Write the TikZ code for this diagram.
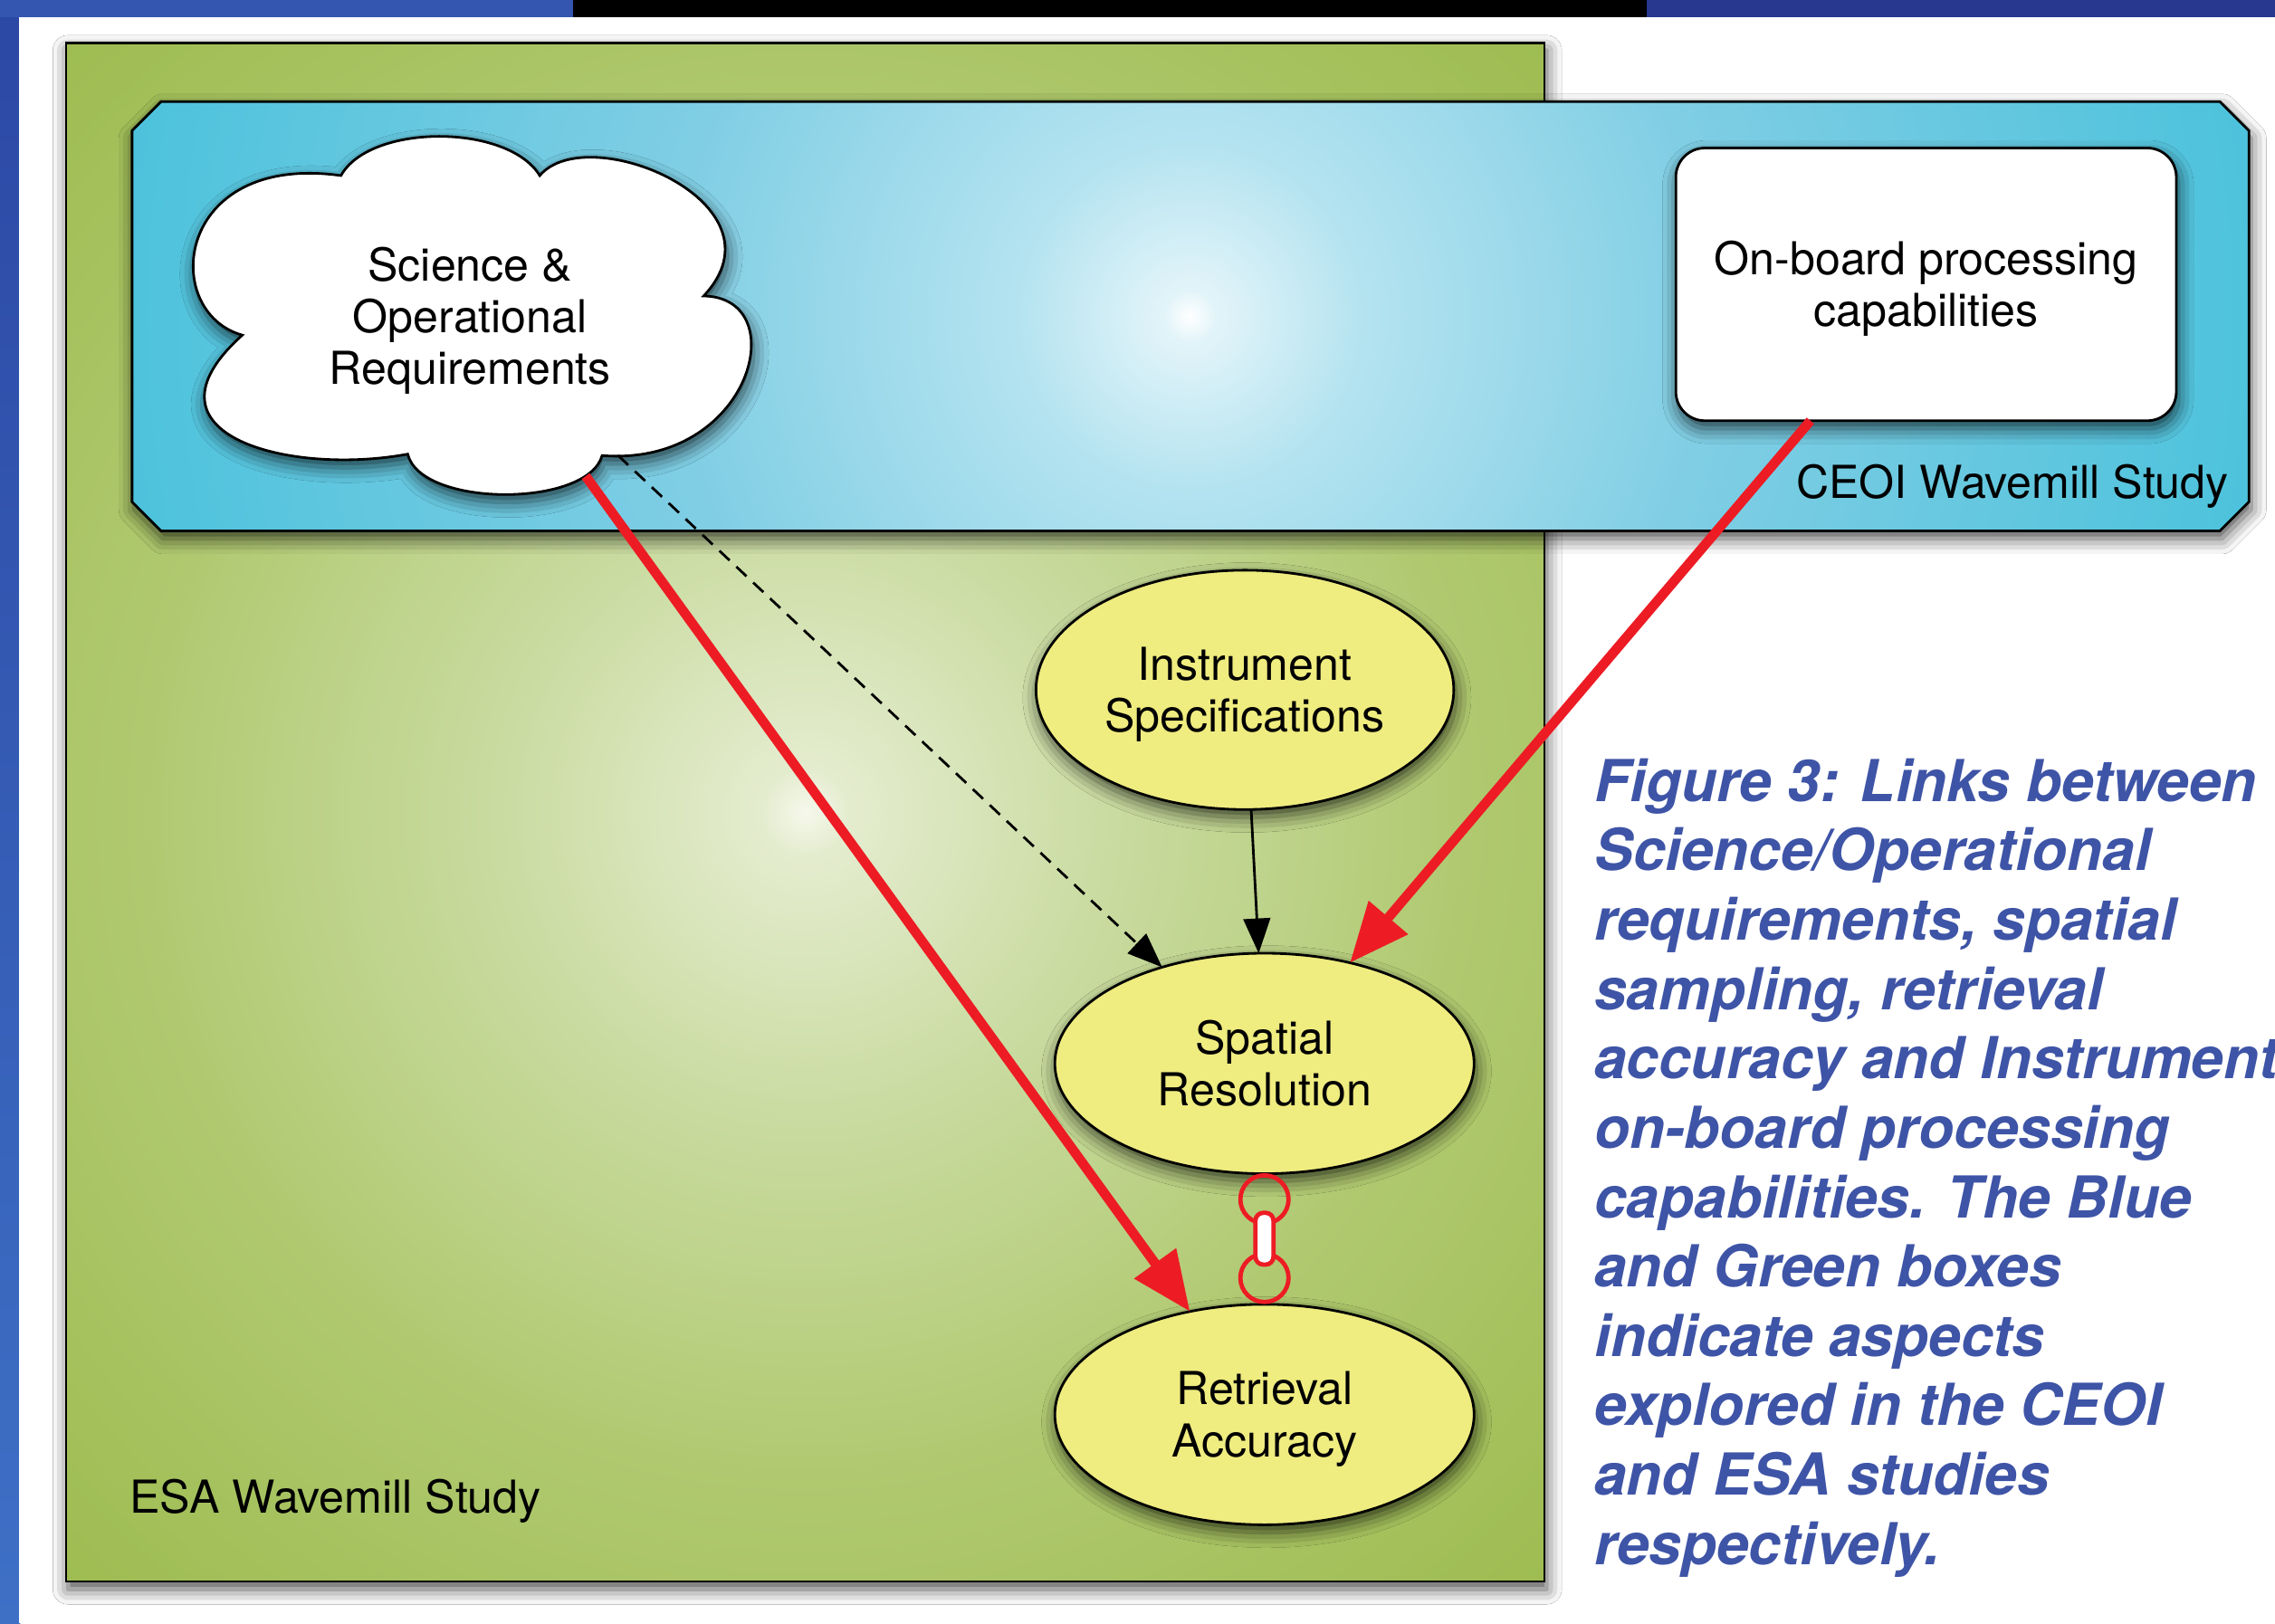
\documentclass[tikz,border=0pt]{standalone}
\usepackage{fontspec}
\setmainfont{TeX Gyre Heros}
\usetikzlibrary{arrows.meta,shapes.geometric,shadows.blur,calc}

\definecolor{bgTop}{RGB}{44,72,165}
\definecolor{bgBot}{RGB}{62,112,198}
\definecolor{bgTopL}{RGB}{52,86,176}
\definecolor{bgTopR}{RGB}{40,56,142}
\definecolor{arrowred}{RGB}{237,28,36}
\definecolor{nodeyellow}{RGB}{239,236,128}
\definecolor{captionblue}{RGB}{62,84,166}
\definecolor{cyA}{RGB}{255,255,255}
\definecolor{cyB}{RGB}{226,244,249}
\definecolor{cyC}{RGB}{180,227,240}
\definecolor{cyD}{RGB}{128,206,228}
\definecolor{cyE}{RGB}{76,194,220}
\definecolor{grA}{RGB}{246,248,236}
\definecolor{grB}{RGB}{228,236,206}
\definecolor{grC}{RGB}{201,219,160}
\definecolor{grD}{RGB}{176,201,112}
\definecolor{grE}{RGB}{156,187,78}

\pgfdeclareradialshading{cyanglow}{\pgfpoint{0bp}{0bp}}{color(0bp)=(cyA); color(0.6bp)=(cyB); color(4bp)=(cyC); color(12bp)=(cyD); color(25bp)=(cyE); color(50bp)=(cyE)}
\pgfdeclareradialshading{greenglow}{\pgfpoint{0bp}{0bp}}{color(0bp)=(grA); color(1bp)=(grB); color(7bp)=(grC); color(15bp)=(grD); color(25bp)=(grE); color(50bp)=(grE)}

\newcommand\mlines[1]{\begin{tabular}{@{}c@{}}\rule{0pt}{18.8pt}#1\end{tabular}}

\tikzset{
  shad/.style={blur shadow={shadow xshift=0.8pt, shadow yshift=-3pt, shadow blur radius=6pt, shadow opacity=70}},
  lbl/.style={font=\fontsize{17.8}{20.3}\selectfont, inner sep=0pt, outer sep=0pt},
  boxline/.style={draw=black, line width=1pt},
  yellownode/.style={ellipse, boxline, fill=nodeyellow, shad, lbl},
  whitebox/.style={rectangle, rounded corners=0.4cm, boxline, fill=white, shad, lbl,
                   minimum width=6.9cm, minimum height=3.76cm},
  redarr/.style={draw=arrowred, line width=3.8pt, -{Triangle[length=0.82cm, width=0.68cm]}},
  blackarr/.style={draw=black, line width=1pt, -{Triangle[length=0.48cm, width=0.37cm]}},
  dasharr/.style={blackarr, dash pattern=on 5.5pt off 3.6pt},
  linkred/.style={draw=arrowred, line width=1.7pt},
  captiontext/.style={font=\fontsize{22.7}{27.21}\selectfont\bfseries\itshape, text=captionblue, inner sep=0pt, outer sep=0pt}
}

\begin{document}
\begin{tikzpicture}[x=0.02cm, y=-0.02cm]
\useasboundingbox (0,0) rectangle (1568,1119);

% backdrop
\shade[top color=bgTop, bottom color=bgBot] (0,0) rectangle (14,1119);
\fill[bgTopL] (0,0) rectangle (395,12);
\fill[black] (395,0) rectangle (1135,12);
\fill[bgTopR] (1135,0) rectangle (1568,12);
\fill[white] (13.4,11.9) rectangle (1568,1119);

% green (ESA) box
\path[fill=grE, shad] (45.5,29.5) rectangle (1064.5,1090);
\begin{scope}
  \clip (45.5,29.5) rectangle (1064.5,1090);
  \shade[shading=greenglow] (555,560) circle[radius=760];
\end{scope}
\draw[boxline] (45.5,29.5) rectangle (1064.5,1090);
\node[lbl, anchor=base west] (esa) at (89.5,1043) {ESA Wavemill Study};

% cyan (CEOI) box
\path[fill=cyE, shad] (111,70) -- (1530,70) -- (1550,90) -- (1550,346) -- (1530,366) -- (111,366) -- (91,346) -- (91,90) -- cycle;
\begin{scope}
  \clip (111,70) -- (1530,70) -- (1550,90) -- (1550,346) -- (1530,366) -- (111,366) -- (91,346) -- (91,90) -- cycle;
  \shade[shading=cyanglow] (820,218) circle[radius=745];
\end{scope}
\draw[boxline] (111,70) -- (1530,70) -- (1550,90) -- (1550,346) -- (1530,366) -- (111,366) -- (91,346) -- (91,90) -- cycle;
\node[lbl, anchor=base east] (ceoi) at (1536,343.2) {CEOI Wavemill Study};

% cloud
\filldraw[fill=white, boxline, shad]
  (167,231) .. controls (110,215) and (120,105) .. (235,121)
  .. controls (255,85) and (350,85) .. (372,121)
  .. controls (405,82) and (545,140) .. (485,204)
  .. controls (548,205) and (518,322) .. (415,314)
  .. controls (405,350) and (290,350) .. (281,313)
  .. controls (200,328) and (90,300) .. (167,231) -- cycle;
\node[lbl] (sci) at (324,218) {\mlines{Science \&\\Operational\\Requirements}};

% on-board box
\node[whitebox] (obp) at (1327.5,196) {\mlines{On-board processing\\capabilities}};

% ellipses
\node[yellownode, minimum width=5.76cm, minimum height=3.3cm] (inst) at (858,475.5) {\mlines{Instrument\\Specifications}};
\node[yellownode, minimum width=5.78cm, minimum height=3.04cm] (spat) at (871.5,733) {\mlines{Spatial\\Resolution}};
\node[yellownode, minimum width=5.78cm, minimum height=3.04cm] (ret) at (871.5,975) {\mlines{Retrieval\\Accuracy}};

% connectors
\draw[dasharr, shorten <=2.8cm] (sci.center) -- (spat);
\draw[blackarr] (inst) -- (spat);
\draw[redarr, shorten <=2.72cm] (sci.center) -- (ret);
\draw[redarr] (obp) -- (spat);

% link between spatial resolution and retrieval accuracy
\draw[linkred] ($(spat.south)+(0,17.7)$) circle[radius=16.6];
\draw[linkred] ($(ret.north)+(0,-18.2)$) circle[radius=16.6];
\draw[linkred, fill=white, rounded corners=3pt] ($(spat.south)+(-6.2,27)$) rectangle ($(ret.north)+(6.2,-27.4)$);

% caption
\node[captiontext, anchor=base west] (caption) at (1099,552.4) {\begin{tabular}[t]{@{}l@{}}Figure 3: Links between\\
Science/Operational\\
requirements, spatial\\
sampling, retrieval\\
accuracy and Instrument\\
on-board processing\\
capabilities. The Blue\\
and Green boxes\\
indicate aspects\\
explored in the CEOI\\
and ESA studies\\
respectively.\end{tabular}};
\end{tikzpicture}
\end{document}
